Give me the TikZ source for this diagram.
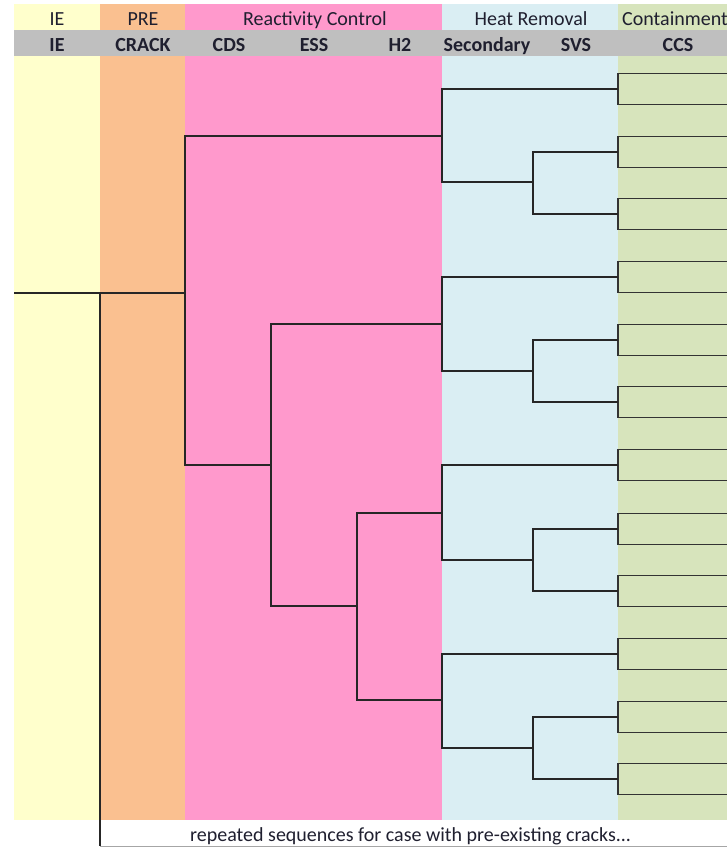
\documentclass[tikz,border=0pt]{standalone}
\usepackage{fontspec}
\setmainfont{Carlito}
\definecolor{ieyellow}{HTML}{FFFFCC}
\definecolor{preorange}{HTML}{FAC090}
\definecolor{rcpink}{HTML}{FF99CC}
\definecolor{hrblue}{HTML}{DAEEF3}
\definecolor{ccgreen}{HTML}{D7E4BC}
\definecolor{hdrgray}{HTML}{BFBFBF}
\definecolor{txtdark}{HTML}{1F1F2F}
\tikzset{
  branch/.style={draw=black!85,line width=1.1pt},
  ccsbox/.style={draw=black!80,line width=1.3pt},
  hdr/.style={font=\fontsize{20}{22}\selectfont,text=txtdark,inner sep=0pt,anchor=base},
  subhdr/.style={hdr,font=\fontsize{20}{22}\selectfont\bfseries},
}
\begin{document}
\begin{tikzpicture}[x=1pt,y=-1pt]
\useasboundingbox (0,0) rectangle (727,847);
\clip (0,0) rectangle (727,847);
% column bands
\fill[ieyellow] (14,4) rectangle (100,820);
\fill[preorange] (100,4) rectangle (185,820);
\fill[rcpink] (185,4) rectangle (442,820);
\fill[hrblue] (442,4) rectangle (618,820);
\fill[ccgreen] (618,4) rectangle (727,820);
\fill[hdrgray] (14,30) rectangle (727,56);
% headers
\node[hdr] (hIE) at (57,25) {IE};
\node[hdr] (hPRE) at (143,25) {PRE};
\node[hdr] (hRC) at (315,25) {Reactivity Control};
\node[hdr] (hHR) at (531,25) {Heat Removal};
\node[hdr,anchor=base west] (hCC) at (622,25) {Containment};
\node[subhdr] (sIE) at (57,51) {IE};
\node[subhdr] (sCRACK) at (143,51) {CRACK};
\node[subhdr] (sCDS) at (229,51) {CDS};
\node[subhdr] (sESS) at (314,51) {ESS};
\node[subhdr] (sH2) at (400,51) {H2};
\node[subhdr] (sSEC) at (487,51) {Secondary};
\node[subhdr] (sSVS) at (576,51) {SVS};
\node[subhdr] (sCCS) at (678,51) {CCS};
% branch points
\coordinate (ie) at (14,293);
\coordinate (pre) at (100,293);
\coordinate (cds) at (185,293);
\coordinate (rep) at (100,846);
\coordinate (sec1) at (442,136);
\coordinate (ess) at (271,465);
\coordinate (sec2) at (442,324);
\coordinate (h2) at (357,606);
\coordinate (sec3) at (442,513);
\coordinate (sec4) at (442,700);
\coordinate (svs1) at (533,182);
\coordinate (svs2) at (533,371);
\coordinate (svs3) at (533,560);
\coordinate (svs4) at (533,748);
% containment end states
\foreach \y [count=\i] in {89,152,214,277,340,402,465,529,591,654,717,779}{
  \coordinate (ccs\i) at (618,\y);
  \draw[ccsbox] (740,\y-15.5) -- (618,\y-15.5) -- (618,\y+15.5) -- (740,\y+15.5);
}
% tree
\draw[branch] (ie) -- (cds);
\draw[branch] (pre) -- (rep);
\draw[branch] (sec1) -| (cds) |- (ess);
\draw[branch] (ccs1) -| (sec1) |- (svs1);
\draw[branch] (ccs2) -| (svs1) |- (ccs3);
\draw[branch] (sec2) -| (ess) |- (h2);
\draw[branch] (ccs4) -| (sec2) |- (svs2);
\draw[branch] (ccs5) -| (svs2) |- (ccs6);
\draw[branch] (sec3) -| (h2) |- (sec4);
\draw[branch] (ccs7) -| (sec3) |- (svs3);
\draw[branch] (ccs8) -| (svs3) |- (ccs9);
\draw[branch] (ccs10) -| (sec4) |- (svs4);
\draw[branch] (ccs11) -| (svs4) |- (ccs12);
% pre-existing cracks row
\draw[gray!70,line width=1pt] (rep) -- (727,846);
\node[hdr,anchor=base west] (repnote) at (190,841) {repeated sequences for case with pre-existing cracks...};
\end{tikzpicture}
\end{document}
